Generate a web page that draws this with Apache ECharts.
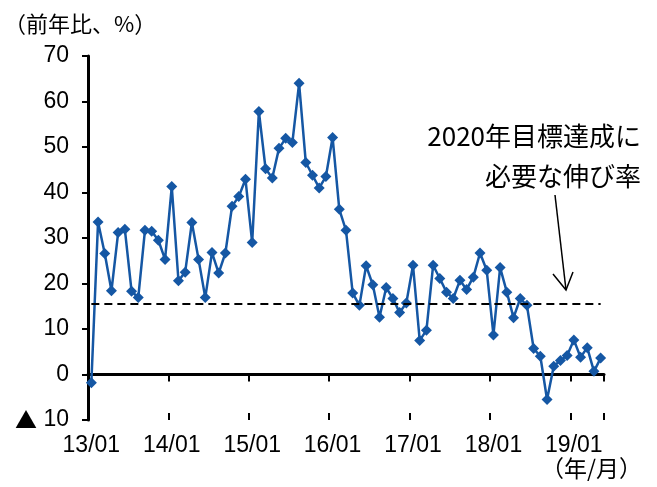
<!DOCTYPE html>
<html>
<head>
<meta charset="utf-8">
<script src="https://cdn.jsdelivr.net/npm/echarts@6/dist/echarts.min.js"></script>
<style>
  html, body { margin: 0; padding: 0; background: #fff; }
  #chart { width: 657px; height: 487px; }
</style>
</head>
<body>
<div id="chart"></div>
<script>
// Monthly categories, 2013/01 .. 2019/05 (labelled YY/MM)
const startYear = 2013, startMonth = 1, monthCount = 77;
const categories = [];
for (let i = 0; i < monthCount; i++) {
  const m = (startMonth - 1 + i) % 12 + 1;
  const y = startYear + Math.floor((startMonth - 1 + i) / 12);
  categories.push(String(y % 100).padStart(2, '0') + '/' + String(m).padStart(2, '0'));
}

// Year-on-year growth, %
const growth = [
  -1.8, 33.5, 26.6, 18.4, 31.2, 31.9, 18.3, 16.9, 31.7, 31.5, 29.5, 25.3,
  41.3, 20.6, 22.5, 33.4, 25.3, 16.9, 26.8, 22.3, 26.7, 37.0, 39.1, 42.9,
  29.0, 57.8, 45.2, 43.2, 49.7, 51.9, 51.0, 64.0, 46.6, 43.8, 41.0, 43.5,
  52.1, 36.3, 31.7, 17.9, 15.2, 23.9, 19.7, 12.6, 19.1, 16.7, 13.6, 15.7,
  24.0, 7.5, 9.7, 24.0, 21.1, 18.1, 16.7, 20.7, 18.7, 21.4, 26.7, 22.9,
  8.7, 23.5, 18.1, 12.5, 16.7, 15.2, 5.7, 4.0, -5.5, 1.8, 3.1, 4.2,
  7.6, 3.8, 5.9, 0.7, 3.6
];

// Growth rate needed to reach the 2020 target
const targetRate = 15.6;

const yTicks = { min: -10, max: 70, interval: 10 };

const latin = '"Liberation Sans", Arial, sans-serif';
const cjk = '"Noto Sans CJK JP", "Noto Sans CJK SC", sans-serif';

const chart = echarts.init(document.getElementById('chart'), null, { renderer: 'canvas' });

const baseX = {
  type: 'category',
  data: categories,
  boundaryGap: true,
  gridIndex: 0
};

chart.setOption({
  animation: false,
  backgroundColor: '#fff',
  grid: { left: 88, top: 56, width: 516, height: 364, containLabel: false },
  xAxis: [
    // axis line through zero with downward ticks
    Object.assign({}, baseX, {
      position: 'bottom',
      axisLine: { show: true, onZero: true, lineStyle: { color: '#000', width: 3 } },
      axisTick: { show: true, inside: false, length: 7, interval: 11, lineStyle: { color: '#000', width: 2 } },
      axisLabel: { show: false },
      splitLine: { show: false }
    }),
    // upward half of the crossing ticks
    Object.assign({}, baseX, {
      position: 'bottom',
      axisLine: { show: false, onZero: true },
      axisTick: { show: true, inside: true, length: 7, interval: 11, lineStyle: { color: '#000', width: 2 } },
      axisLabel: { show: false },
      splitLine: { show: false }
    }),
    // year labels along the bottom edge
    Object.assign({}, baseX, {
      position: 'bottom',
      axisLine: { show: false, onZero: false },
      axisTick: { show: false },
      axisLabel: {
        show: true, interval: 11, margin: 14,
        color: '#000', fontFamily: latin, fontSize: 23
      },
      splitLine: { show: false }
    })
  ],
  yAxis: {
    type: 'value',
    min: yTicks.min,
    max: yTicks.max,
    interval: yTicks.interval,
    axisLine: { show: true, lineStyle: { color: '#000', width: 3 } },
    axisTick: { show: true, inside: false, length: 6, lineStyle: { color: '#000', width: 2 } },
    splitLine: { show: false },
    axisLabel: {
      margin: 19,
      color: '#000',
      fontFamily: latin,
      fontSize: 23,
      formatter: v => (v < 0 ? '{tri|▲} ' + (-v) : String(v)),
      rich: {
        tri: { fontFamily: cjk, fontSize: 22, color: '#000' }
      }
    }
  },
  series: [{
    type: 'line',
    xAxisIndex: 0,
    data: growth,
    symbol: 'diamond',
    symbolSize: 11,
    showSymbol: true,
    showAllSymbol: true,
    lineStyle: { color: '#1557a4', width: 2.5 },
    itemStyle: { color: '#1557a4' },
    z: 3,
    markLine: {
      silent: true,
      symbol: ['none', 'none'],
      label: { show: false },
      lineStyle: { color: '#000', type: [8, 5], width: 2 },
      data: [[
        { coord: [categories[0], targetRate] },
        { coord: [categories[categories.length - 1], targetRate] }
      ]]
    }
  }],
  graphic: [
    {
      type: 'text', left: 4, top: 13,
      style: { text: '（前年比、%）', font: '22px ' + cjk, fill: '#000' }
    },
    {
      type: 'text', right: 16, top: 123,
      style: { text: '2020年目標達成に', font: '26px ' + cjk, fill: '#000', align: 'right' }
    },
    {
      type: 'text', right: 16, top: 163,
      style: { text: '必要な伸び率', font: '26px ' + cjk, fill: '#000', align: 'right' }
    },
    {
      type: 'text', right: 15, top: 457,
      style: { text: '（年/月）', font: '23px ' + cjk, fill: '#000', align: 'right' }
    },
    // arrow pointing down to the dashed target line
    {
      type: 'line',
      shape: { x1: 555, y1: 195, x2: 566, y2: 290 },
      style: { stroke: '#000', lineWidth: 1.5 }
    },
    {
      type: 'polyline',
      shape: { points: [[553, 274], [566, 290], [573, 272]] },
      style: { stroke: '#000', lineWidth: 1.5, fill: null }
    }
  ]
});
</script>
</body>
</html>
